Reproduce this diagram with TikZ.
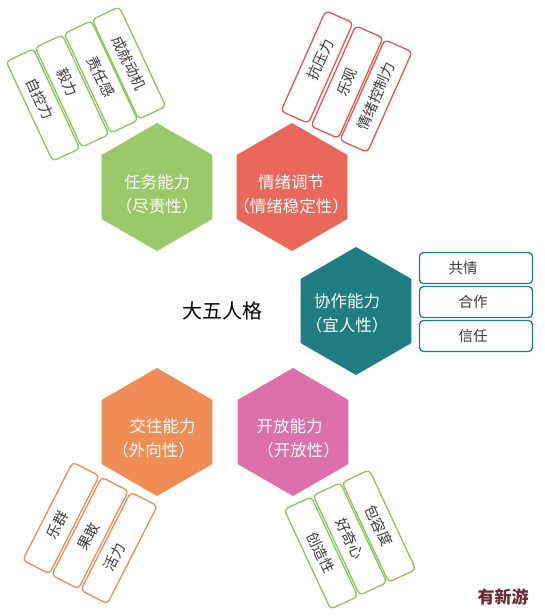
\documentclass[tikz,border=0pt]{standalone}
\usepackage{fontspec}
\setmainfont{Noto Sans CJK SC}
\usetikzlibrary{shapes.geometric}
\definecolor{hgreen}{RGB}{155,201,106}
\definecolor{bgreen}{RGB}{140,198,88}
\definecolor{hred}{RGB}{234,104,90}
\definecolor{bred}{RGB}{228,88,82}
\definecolor{hteal}{RGB}{32,126,130}
\definecolor{horange}{RGB}{240,141,86}
\definecolor{hpink}{RGB}{220,112,170}
\definecolor{tgray}{RGB}{60,60,60}
\definecolor{wmark}{RGB}{105,42,52}
\begin{document}
\begin{tikzpicture}[x=1pt,y=-1pt,
  hexa/.style={regular polygon, regular polygon sides=6, shape border rotate=30,
    minimum size=128pt, inner sep=0pt, outer sep=0pt, draw=none},
  hextext/.style={text=white, align=center, font=\fontsize{16.5}{24}\selectfont},
  skbox/.style={draw, line width=1.3pt, rounded corners=4pt, fill=white,
    minimum width=110pt, minimum height=30pt, inner sep=0pt, text=tgray,
    font=\fontsize{14.5}{16}\selectfont},
  tealbox/.style={skbox, draw=hteal, minimum width=113pt, minimum height=31pt}
]
\useasboundingbox (0,0) rectangle (545,616);

% hexagons
\node[hexa, fill=hgreen] (hA) at (157,187) {};
\node[hexa, fill=hred] (hB) at (292,187) {};
\node[hexa, fill=hteal] (hC) at (356,311) {};
\node[hexa, fill=hpink] (hD) at (293,432) {};
\node[hexa, fill=horange] (hE) at (157,432) {};

\node[hextext] (tA) at (157,194) {任务能力\\（尽责性）};
\node[hextext] (tB) at (291,194) {情绪调节\\（情绪稳定性）};
\node[hextext] (tC) at (347,313) {协作能力\\（宜人性）};
\node[hextext] (tD) at (294,438) {开放能力\hspace*{9pt}\\\hspace*{9pt}（开放性）};
\node[hextext] (tE) at (158,438) {\hspace*{9pt}交往能力\\（外向性）\hspace*{9pt}};

\node[font=\fontsize{20}{22}\selectfont, text=black] (center) at (222,311) {大五人格};

% green boxes top-left
\node[skbox, draw=bgreen, rotate=-65] (g1) at (43,105) {自控力\hspace*{14pt}};
\node[skbox, draw=bgreen, rotate=-65] (g2) at (72,91) {毅力\hspace*{20pt}};
\node[skbox, draw=bgreen, rotate=-65] (g3) at (101,77) {责任感};
\node[skbox, draw=bgreen, rotate=-65] (g4) at (129,63) {成就动机};

% red boxes top-right
\node[skbox, draw=bred, rotate=66] (r1) at (317,67) {\hspace*{16pt}抗压力};
\node[skbox, draw=bred, rotate=66] (r2) at (347,82) {乐观};
\node[skbox, draw=bred, rotate=66] (r3) at (376,96) {情绪控制力};

% teal boxes right
\node[tealbox] (c1) at (476,268) {共情\hspace*{26pt}};
\node[tealbox] (c2) at (476,302) {合作\hspace*{6pt}};
\node[tealbox] (c3) at (476,336) {信任\hspace*{6pt}};

% orange boxes bottom-left
\node[skbox, draw=horange, rotate=63] (o1) at (61,518) {乐群\hspace*{16pt}};
\node[skbox, draw=horange, rotate=63] (o2) at (90,533) {果敢\hspace*{8pt}};
\node[skbox, draw=horange, rotate=63] (o3) at (119,548) {活力\hspace*{20pt}};

% green boxes bottom-right
\node[skbox, draw=bgreen, rotate=-65] (p1) at (321,553) {创造性};
\node[skbox, draw=bgreen, rotate=-65] (p2) at (350,539) {好奇心};
\node[skbox, draw=bgreen, rotate=-65] (p3) at (379,526) {包容度};

% watermark
\node[text=wmark, font=\fontsize{17}{20}\bfseries\selectfont] (wm) at (503,597) {有新游};
\end{tikzpicture}
\end{document}
